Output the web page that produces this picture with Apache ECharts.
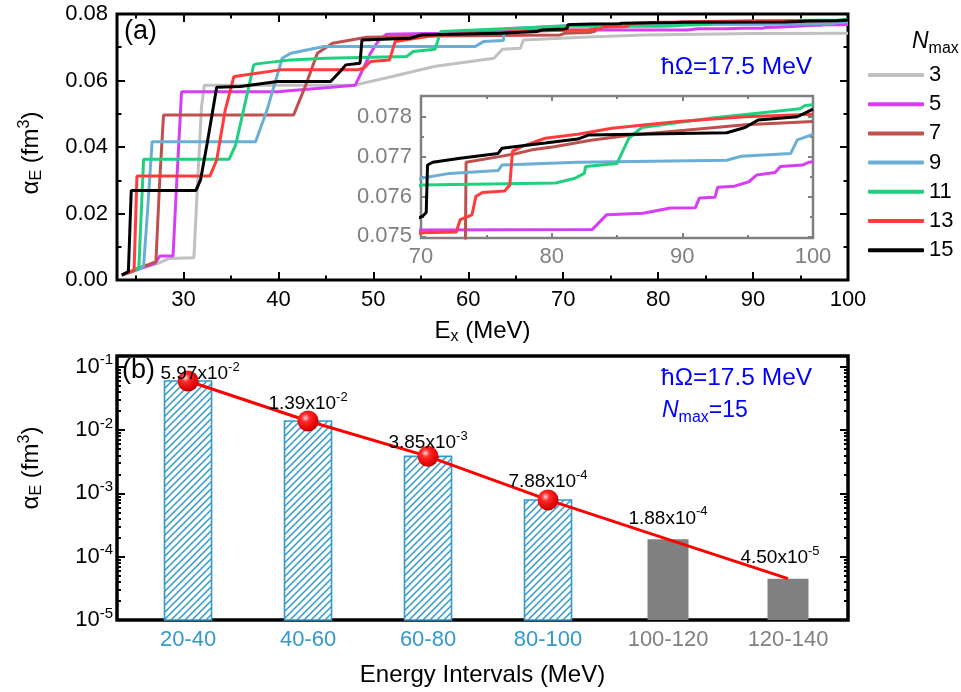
<!DOCTYPE html>
<html><head><meta charset="utf-8">
<script src="https://cdn.jsdelivr.net/npm/echarts@6/dist/echarts.min.js"></script>
<style>html,body{margin:0;padding:0;background:#fff}#c{width:961px;height:692px}</style>
</head><body><div id="c"></div>
<script>
const FONT = 'Liberation Sans, Arial, Helvetica, sans-serif';

// ---------- Panel (a): cumulative alpha_E vs E_x for each Nmax ----------
const nmaxNames = ['3','5','7','9','11','13','15'];
const curveN3 = [[23.5,0.0015],[25.5,0.0035],[27.5,0.0052],[28.5,0.0065],[31.1,0.0067],[31.5,0.030],[31.9,0.052],[32.2,0.0586],[48.0,0.0586],[52.0,0.0612],[56.4,0.0642],[62.7,0.0667],[63.6,0.0694],[65.5,0.0697],[65.8,0.0722],[72.0,0.0730],[78.5,0.0737],[90.0,0.0741],[100,0.0742]];
const curveN5 = [[23.5,0.0015],[25.5,0.0035],[27.0,0.0050],[27.5,0.0072],[28.9,0.0072],[29.3,0.030],[29.8,0.0566],[39.9,0.0566],[48.1,0.0586],[49.7,0.0682],[50.6,0.0722],[51.4,0.0739],[57.1,0.0742],[64.0,0.0748],[70.0,0.07516],[83.1,0.07517],[84.2,0.07554],[87.0,0.07558],[89.1,0.07571],[91.0,0.07572],[91.3,0.07596],[92.5,0.07598],[92.7,0.07623],[94.0,0.07626],[95.1,0.07637],[95.7,0.07654],[97.1,0.0766],[97.5,0.07675],[99.2,0.07679],[99.7,0.07686],[100,0.07687]];
const curveN7 = [[23.5,0.0015],[25.0,0.0033],[26.2,0.0045],[27.1,0.0055],[27.5,0.030],[27.9,0.0496],[41.6,0.0496],[42.8,0.058],[44.1,0.0682],[45.7,0.0712],[49.3,0.0730],[56.7,0.0734],[69.7,0.0737],[70.2,0.0742],[72.8,0.0744],[73.4,0.0749],[73.45,0.07686],[76.0,0.0770],[77.3,0.07708],[78.5,0.07717],[80.2,0.07725],[83.0,0.07741],[86.1,0.07754],[90.2,0.07766],[94.8,0.0778],[100,0.07788]];
const curveN9 = [[23.5,0.0015],[25.0,0.0030],[25.8,0.0040],[26.2,0.020],[26.7,0.0416],[37.6,0.0416],[38.8,0.0511],[40.4,0.0667],[41.3,0.0682],[44.8,0.0702],[60.7,0.0702],[61.6,0.0717],[63.7,0.0720],[63.8,0.0755],[70.0,0.07646],[72.2,0.07658],[75.9,0.07665],[76.2,0.07679],[82.0,0.07686],[93.4,0.07691],[94.5,0.07701],[98.3,0.07708],[98.8,0.07742],[100,0.07756]];
const curveN11 = [[23.5,0.0015],[24.5,0.0025],[25.3,0.0035],[25.8,0.0363],[34.8,0.0363],[35.5,0.0406],[37.4,0.0647],[37.7,0.0650],[41.3,0.0662],[45.0,0.0667],[53.5,0.0672],[54.2,0.0687],[56.5,0.0694],[57.1,0.0747],[65.5,0.0758],[70.0,0.07629],[80.3,0.07634],[81.8,0.07646],[82.5,0.07658],[82.6,0.07675],[85.0,0.07683],[85.9,0.07746],[86.9,0.07773],[92.1,0.07796],[97.2,0.07814],[99.0,0.0782],[99.4,0.07828],[100,0.0783]];
const curveN13 = [[23.5,0.0015],[24.8,0.0028],[25.1,0.0313],[32.8,0.0313],[33.5,0.0361],[34.4,0.0511],[35.3,0.0611],[35.9,0.0614],[40.2,0.0632],[48.3,0.0632],[49.0,0.0637],[49.7,0.0657],[51.7,0.0662],[52.3,0.0717],[56.7,0.0737],[65.5,0.0747],[70.0,0.07509],[72.7,0.07511],[73.0,0.07542],[73.9,0.07554],[74.2,0.0760],[74.7,0.0761],[76.4,0.07614],[76.8,0.07629],[77.0,0.07713],[77.7,0.07725],[79.5,0.07746],[82.0,0.07756],[84.6,0.07771],[89.7,0.07788],[94.8,0.0780],[100,0.07806]];
const curveN15 = [[23.5,0.0015],[24.2,0.0025],[24.5,0.0269],[31.3,0.0269],[31.8,0.0301],[32.5,0.0411],[33.5,0.058],[36.0,0.0582],[39.9,0.0597],[45.5,0.0597],[46.5,0.0627],[47.1,0.0647],[48.6,0.0652],[48.8,0.0722],[53.9,0.0727],[55.0,0.0737],[63.4,0.0742],[67.2,0.0747],[67.7,0.0752],[70.1,0.0755],[70.4,0.0756],[70.5,0.07679],[70.9,0.07686],[73.0,0.07696],[75.9,0.07708],[76.2,0.07721],[79.5,0.07734],[82.0,0.07744],[82.8,0.07754],[93.4,0.0776],[94.8,0.07773],[95.8,0.07792],[98.8,0.0780],[100,0.07819]];
const curves = [curveN3, curveN5, curveN7, curveN9, curveN11, curveN13, curveN15];

const xTicksMajorA = [30,40,50,60,70,80,90,100];
const xTicksMinorA = [25,35,45,55,65,75,85,95];
const yTicksMajorA = [0,0.02,0.04,0.06,0.08];
const yTicksMinorA = [0.01,0.03,0.05,0.07];
const insetXMajor = [70,80,90,100];
const insetXMinor = [75,85,95];
const insetYMajor = [0.075,0.076,0.077,0.078];
const insetYMinor = [0.0755,0.0765,0.0775];

// ---------- Panel (b): alpha_E per energy interval ----------
const intervals = ['20-40','40-60','60-80','80-100','100-120','120-140'];
const alphaComputed = [0.0597, 0.0139, 0.00385, 0.000788];
const alphaExtrapolated = [1.88e-4, 4.50e-5];
const fitLine = [0.0597, 0.0139, 0.00385, 0.000788, 1.88e-4, 4.50e-5];
const logMajor = [1e-5, 1e-4, 1e-3, 1e-2, 1e-1];

// ---------- styles ----------
const colors = ['#c0c0c0','#d63df5','#c0504d','#6aaed6','#1fd07f','#ff3b3b','#000000'];
const BLUE = '#3399cc';
const GRAY = '#808080';

const logMinor = [];
for (let e = -5; e <= -2; e++) for (let m = 2; m <= 9; m++) logMinor.push(m * Math.pow(10, e));

// hatch tile for the computed bars
const hatchTile = (function () {
  const s = 7, cv = document.createElement('canvas');
  cv.width = s; cv.height = s;
  const g = cv.getContext('2d');
  g.fillStyle = '#fff'; g.fillRect(0, 0, s, s);
  g.strokeStyle = BLUE; g.lineWidth = 1.5; g.lineCap = 'square';
  g.beginPath();
  g.moveTo(-1, s + 1); g.lineTo(s + 1, -1);
  g.moveTo(-1, 1); g.lineTo(1, -1);
  g.moveTo(s - 1, s + 1); g.lineTo(s + 1, s - 1);
  g.stroke();
  return cv;
})();
const hatchFill = {image: hatchTile, repeat: 'repeat'};

function tickAxis(o) {
  const a = {
    type: o.type || 'value', gridIndex: o.grid, position: o.pos,
    min: o.min, max: o.max, show: o.show !== false,
    axisLine: {show: false, onZero: false},
    axisTick: {show: !!o.ticks, inside: true, length: o.len || 5,
      customValues: o.ticks, lineStyle: {color: o.color || '#000', width: o.tw || 2}},
    axisLabel: {show: false},
    splitLine: {show: false}, minorTick: {show: false}
  };
  if (o.type === 'log') a.logBase = 10;
  if (o.label) a.axisLabel = o.label;
  if (o.name) Object.assign(a, o.name);
  return a;
}

const supSub = {
  sub: {fontSize: 16, fontFamily: FONT, verticalAlign: 'bottom', lineHeight: 16, color: '#000'},
  sup: {fontSize: 16, fontFamily: FONT, verticalAlign: 'top', lineHeight: 16, color: '#000'}
};

const A = {min: 23, max: 100}, AY = {min: 0, max: 0.08};
const I = {min: 70, max: 100}, IY = {min: 0.07496, max: 0.07852};
const B = {min: 0.408, max: 6.5}, BY = {min: 1e-5, max: 0.148};

const xAxis = [
  tickAxis({grid: 0, pos: 'bottom', ...A, ticks: xTicksMajorA, len: 8,
    label: {show: true, customValues: xTicksMajorA, margin: 9, fontSize: 22, color: '#000', fontFamily: FONT},
    name: {name: 'E{sub|x} (MeV)', nameLocation: 'middle', nameGap: 37,
      nameTextStyle: {fontSize: 24, color: '#000', fontFamily: FONT, lineHeight: 28, rich: supSub}}}),
  tickAxis({grid: 0, pos: 'bottom', ...A, ticks: xTicksMinorA, len: 4.5}),
  tickAxis({grid: 0, pos: 'top', ...A, ticks: xTicksMajorA, len: 8}),
  tickAxis({grid: 0, pos: 'top', ...A, ticks: xTicksMinorA, len: 4.5}),
  tickAxis({grid: 1, pos: 'bottom', ...I, ticks: insetXMajor, len: 5, color: GRAY,
    label: {show: true, customValues: insetXMajor, margin: 8, fontSize: 22, color: GRAY, fontFamily: FONT}}),
  tickAxis({grid: 1, pos: 'bottom', ...I, ticks: insetXMinor, len: 3, color: GRAY}),
  tickAxis({grid: 1, pos: 'top', ...I, ticks: insetXMajor, len: 5, color: GRAY}),
  tickAxis({grid: 1, pos: 'top', ...I, ticks: insetXMinor, len: 3, color: GRAY}),
  tickAxis({grid: 2, pos: 'bottom', ...B,
    label: {show: true, customValues: intervals.map((_, i) => i + 1), margin: 9, fontSize: 22, fontFamily: FONT,
      formatter: v => { const i = Math.round(v) - 1; return (i < alphaComputed.length ? '{b|' : '{g|') + intervals[i] + '}'; },
      rich: {b: {color: BLUE, fontSize: 22, fontFamily: FONT}, g: {color: GRAY, fontSize: 22, fontFamily: FONT}}},
    name: {name: 'Energy Intervals (MeV)', nameLocation: 'middle', nameGap: 43,
      nameTextStyle: {fontSize: 24, color: '#000', fontFamily: FONT}}})
];

const yAxis = [
  tickAxis({grid: 0, pos: 'left', ...AY, ticks: yTicksMajorA, len: 8,
    label: {show: true, customValues: yTicksMajorA, margin: 9, fontSize: 22, color: '#000', fontFamily: FONT, formatter: v => v.toFixed(2)},
    name: {name: 'α{sub|E} (fm{sup|3})', nameLocation: 'middle', nameGap: 72, nameRotate: 90,
      nameTextStyle: {fontSize: 24, color: '#000', fontFamily: FONT, lineHeight: 28, rich: supSub, padding: [0, 12, 0, 0]}}}),
  tickAxis({grid: 0, pos: 'left', ...AY, ticks: yTicksMinorA, len: 4.5}),
  tickAxis({grid: 0, pos: 'right', ...AY, ticks: yTicksMajorA, len: 8}),
  tickAxis({grid: 0, pos: 'right', ...AY, ticks: yTicksMinorA, len: 4.5}),
  tickAxis({grid: 1, pos: 'left', ...IY, ticks: insetYMajor, len: 5, color: GRAY,
    label: {show: true, customValues: insetYMajor, margin: 9, fontSize: 22, color: GRAY, fontFamily: FONT, formatter: v => v.toFixed(3)}}),
  tickAxis({grid: 1, pos: 'left', ...IY, ticks: insetYMinor, len: 3, color: GRAY}),
  tickAxis({grid: 1, pos: 'right', ...IY, ticks: insetYMajor, len: 5, color: GRAY}),
  tickAxis({grid: 1, pos: 'right', ...IY, ticks: insetYMinor, len: 3, color: GRAY}),
  tickAxis({grid: 2, pos: 'left', type: 'log', ...BY, ticks: logMajor, len: 8,
    label: {show: true, customValues: logMajor, margin: 4, fontSize: 22, color: '#000', fontFamily: FONT, lineHeight: 28,
      formatter: v => '10{sup|' + Math.round(Math.log10(v)) + '}',
      rich: {sup: {fontSize: 15, fontFamily: FONT, verticalAlign: 'top', lineHeight: 15, color: '#000'}}},
    name: {name: 'α{sub|E} (fm{sup|3})', nameLocation: 'middle', nameGap: 72, nameRotate: 90,
      nameTextStyle: {fontSize: 24, color: '#000', fontFamily: FONT, lineHeight: 28, rich: supSub, padding: [0, 0, 0, 40]}}}),
  tickAxis({grid: 2, pos: 'left', type: 'log', ...BY, ticks: logMinor, len: 4}),
  tickAxis({grid: 2, pos: 'right', type: 'log', ...BY, ticks: logMajor, len: 8}),
  tickAxis({grid: 2, pos: 'right', type: 'log', ...BY, ticks: logMinor, len: 4})
];

const series = [];
curves.forEach((c, k) => {
  series.push({type: 'line', name: nmaxNames[k], xAxisIndex: 0, yAxisIndex: 0, data: c,
    symbol: 'none', showSymbol: false, clip: true, color: colors[k],
    lineStyle: {width: 3, color: colors[k]}, z: 3 + k});
});
curves.forEach((c, k) => {
  series.push({type: 'line', name: nmaxNames[k], xAxisIndex: 4, yAxisIndex: 4, data: c,
    symbol: 'none', showSymbol: false, clip: true, color: colors[k],
    lineStyle: {width: 3, color: colors[k]}, z: 3 + k});
});

// bars drawn from the log-axis floor up to each value through the axis scales
function barRenderer(width, style) {
  return function (params, api) {
    const x = api.value(0), v = api.value(1);
    const top = api.coord([x, v]);
    const bot = api.coord([x, BY.min]);
    return {type: 'rect', shape: {x: top[0] - width / 2, y: top[1], width: width, height: bot[1] - top[1]},
      style: Object.assign({}, style)};
  };
}
series.push({type: 'custom', xAxisIndex: 8, yAxisIndex: 8, z: 2, encode: {x: 0, y: 1},
  data: alphaComputed.map((v, i) => [i + 1, v]),
  renderItem: barRenderer(47, {fill: hatchFill, stroke: BLUE, lineWidth: 1.6})});
series.push({type: 'custom', xAxisIndex: 8, yAxisIndex: 8, z: 2, encode: {x: 0, y: 1},
  data: alphaExtrapolated.map((v, i) => [alphaComputed.length + i + 1, v]),
  renderItem: barRenderer(41, {fill: GRAY})});

const labelOffsets = [[12, 24], [0, 14], [0, 18], [0, 13], [0, 0], [-8, 0]];
const sphere = {type: 'radial', x: 0.38, y: 0.35, r: 0.7,
  colorStops: [{offset: 0, color: '#ffd6d6'}, {offset: 0.28, color: '#ff2a2a'}, {offset: 0.8, color: '#e00000'}, {offset: 1, color: '#a80000'}]};
series.push({type: 'line', xAxisIndex: 8, yAxisIndex: 8, z: 5,
  data: fitLine.map((v, i) => ({value: [i + 1, v],
    symbolSize: i < alphaComputed.length ? 21 : 0,
    label: {offset: labelOffsets[i]}})),
  symbol: 'circle', showAllSymbol: true,
  lineStyle: {color: '#ff0000', width: 3}, itemStyle: {color: sphere},
  label: {show: true, position: 'top', distance: 8, fontSize: 19, color: '#000', fontFamily: FONT, lineHeight: 26,
    formatter: p => { const v = p.value[1]; const e = Math.floor(Math.log10(v) + 1e-9);
      return (v / Math.pow(10, e)).toFixed(2) + 'x10{sup|' + e + '}'; },
    rich: {sup: {fontSize: 13, fontFamily: FONT, verticalAlign: 'top', lineHeight: 13, color: '#000'}}}
});

const blueRich = {
  i: {fontStyle: 'italic', fontSize: 23, fontFamily: FONT, color: '#0000ff', lineHeight: 30},
  s: {fontSize: 16, fontFamily: FONT, color: '#0000ff', verticalAlign: 'bottom', lineHeight: 16}
};
const blackRich = {
  i: {fontStyle: 'italic', fontSize: 23, fontFamily: FONT, color: '#000', lineHeight: 30},
  s: {fontSize: 16, fontFamily: FONT, color: '#000', verticalAlign: 'bottom', lineHeight: 16}
};

const option = {
  animation: false,
  backgroundColor: '#fff',
  textStyle: {fontFamily: FONT},
  title: [
    {text: '(a)', left: 124, top: 18, padding: 0, textStyle: {fontSize: 27, fontWeight: 'normal', color: '#000', fontFamily: FONT}},
    {text: '(b)', left: 122, top: 357, padding: 0, textStyle: {fontSize: 27, fontWeight: 'normal', color: '#000', fontFamily: FONT}},
    {text: 'ħΩ=17.5 MeV', left: 661, top: 55, padding: 0, textStyle: {fontSize: 24.5, fontWeight: 'normal', color: '#0000ff', fontFamily: FONT}},
    {text: 'ħΩ=17.5 MeV', left: 661, top: 366, padding: 0, textStyle: {fontSize: 24.5, fontWeight: 'normal', color: '#0000ff', fontFamily: FONT}},
    {text: '{i|N}{s|max}=15', left: 662, top: 396, padding: 0, textStyle: {fontSize: 23, fontWeight: 'normal', color: '#0000ff', fontFamily: FONT, lineHeight: 30, rich: blueRich}},
    {text: '{i|N}{s|max}', left: 912, top: 27, padding: 0, textStyle: {fontSize: 23, fontWeight: 'normal', color: '#000', fontFamily: FONT, lineHeight: 30, rich: blackRich}}
  ],
  legend: {data: nmaxNames, orient: 'vertical', left: 868, top: 64, padding: 0,
    itemWidth: 56, itemHeight: 4, itemGap: 7.2, icon: 'roundRect',
    textStyle: {fontSize: 22, color: '#000', fontFamily: FONT}},
  grid: [
    {left: 117, top: 14, width: 731, height: 266, show: true, borderColor: '#000', borderWidth: 3, backgroundColor: 'transparent'},
    {left: 421, top: 96, width: 392, height: 142, show: true, borderColor: GRAY, borderWidth: 2.5, backgroundColor: 'transparent'},
    {left: 117, top: 356, width: 731, height: 264, show: true, borderColor: '#000', borderWidth: 3.5, backgroundColor: 'transparent'}
  ],
  xAxis: xAxis,
  yAxis: yAxis,
  series: series
};

const chart = echarts.init(document.getElementById('c'), null, {renderer: 'canvas'});
chart.setOption(option);
</script>
</body></html>
